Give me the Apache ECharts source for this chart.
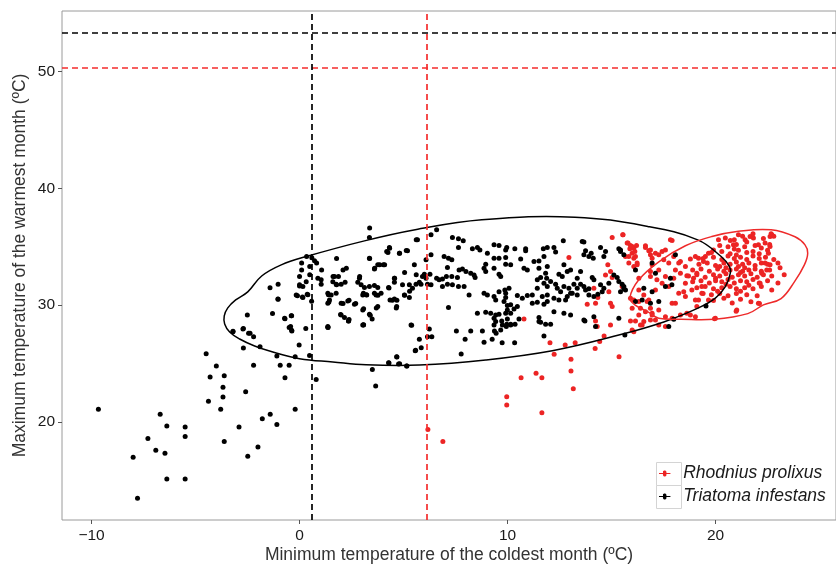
<!DOCTYPE html>
<html>
<head>
<meta charset="utf-8">
<script src="https://cdn.jsdelivr.net/npm/echarts@6/dist/echarts.min.js"></script>
<style>
  html, body { margin: 0; padding: 0; background: #fff; }
  #chart { width: 836px; height: 564px; }
</style>
</head>
<body>
<div id="chart"></div>
<script>
// axis ranges and ticks
const xRange = [-11.42, 25.79];
const yRange = [11.64, 55.15];
const xTicks = [-10, 0, 10, 20];
const yTicks = [20, 30, 40, 50];

// thermal limits [min temp of coldest month, max temp of warmest month]
const triatomaLimits = [0.6, 53.3];
const rhodniusLimits = [6.1, 50.3];

// Triatoma infestans occurrences [x, y]
const triatomaPts = [
  [-9.67,21.1],[-6.70,20.67],[-6.38,19.67],[-5.50,19.6],[-5.50,18.78],[-7.29,18.6],[-6.91,17.6],[-6.47,17.35],
  [-8.0,17.0],[-6.38,15.15],[-5.5,15.15],[-7.79,13.5],[-4.49,25.86],[-4.0,24.8],[-4.3,23.86],[-3.62,23.97],
  [-3.68,22.98],[-3.68,22.15],[-4.38,21.8],[-3.79,21.1],[-3.62,18.36],[-2.59,22.6],[-2.91,19.6],[-1.79,20.3],
  [-1.41,20.67],[-1.09,19.8],[-2.0,17.87],[-2.49,17.1],[-0.21,21.1],[-0.7,23.8],[-0.93,24.86],[-0.5,24.86],
  [-2.21,24.86],[-1.09,25.66],[-0.21,25.6],[0.48,25.7],[0.8,23.66],[-2.7,26.35],[-1.9,26.45],[-0.02,26.6],
  [-3.2,27.77],[-2.7,28.0],[-2.38,27.6],[-2.21,27.3],[-0.5,28.1],[-0.38,27.86],[0.3,28.0],[1.37,28.1],
  [-2.51,29.17],[-1.3,29.3],[-1.42,31.5],[-1.03,30.5],[-1.03,31.8],[-0.7,28.85],[-0.38,29.1],[-0.1,30.8],
  [0.14,30.7],[0,31.65],[0.4,30.9],[0.58,30.34],[1.41,30.28],[1.39,30.9],[1.78,31.76],[2.09,30.14],
  [1.97,29.2],[2.38,28.77],[2.38,30.43],[2.7,30.14],[3.08,28.34],[3.08,29.7],[3.4,29.15],[3.5,24.5],
  [3.66,23.1],[4.3,25.06],[4.68,25.57],[4.81,25.0],[5.16,24.8],[5.58,26.15],[5.39,28.29],[3.69,29.77],
  [3.77,30.86],[3.21,30.9],[4.68,30.43],[4.46,30.43],[4.65,29.77],[5.29,31.2],[5.05,30.86],[4.3,31.48],
  [0.34,34.16],[0.59,34.05],[0.72,33.8],[0.82,33.6],[0.1,33.6],[0.1,33.0],[0.49,33.3],[0.49,32.6],
  [1.06,33.0],[1.78,34.0],[3.37,36.6],[3.37,34.0],[3.61,33.17],[3.85,33.45],[4.09,33.45],[4.25,34.5],
  [4.33,34.88],[4.81,34.45],[5.13,34.68],[5.05,32.8],[5.61,35.6],[2.25,33.17],[2.09,33.0],[1.61,32.45],
  [2.89,32.45],[4.57,32.3],[5.61,32.6],
  [0.0,32.45],[0.0,31.74],[0.32,32.0],[0.16,31.6],[0.88,32.3],[1.04,32.17],[1.04,31.8],[1.68,32.45],
  [1.87,32.45],[1.6,32.0],[1.76,31.8],[2.0,31.8],[2.19,31.97],[2.8,31.97],[2.96,31.74],[-1.04,30.54],
  [-0.16,30.88],[0.16,30.65],[0.37,30.94],[1.36,31.03],[1.52,30.88],[1.76,31.03],[1.36,30.17],[1.44,30.45],
  [2.0,30.17],[2.32,30.37],[2.64,30.09],[3.04,30.88],[-0.72,28.89],[-0.4,29.11],[-0.43,28.17],[-0.37,27.8],
  [1.36,28.17],[2.0,29.17],[2.16,28.94],[2.35,28.66],[3.04,28.31],[-3.2,27.74],[-2.72,27.97],[-2.45,27.6],
  [3.36,35.79],[5.67,35.59],[6.32,36.02],[6.59,36.45],[7.35,35.79],[7.64,35.68],[7.87,35.5],[7.64,34.93],
  [4.32,34.93],[4.19,34.59],[4.8,34.45],[5.19,34.65],[3.36,34.02],[3.76,33.45],[4.03,33.45],[3.6,33.1],
  [5.52,33.45],[6.32,34.31],[6.08,33.88],[6.95,34.16],[7.16,34.02],[7.32,33.88],[7.11,33.22],[6.0,32.65],
  [5.91,32.45],[6.08,32.31],[5.76,31.97],[5.6,31.8],[5.84,31.8],[6.15,31.8],[6.32,31.74],[5.28,31.74],
  [5.43,31.46],[4.95,31.74],[4.56,32.31],[4.56,31.97],[4.28,31.51],[2.88,32.31],[3.12,31.51],[3.36,31.59],
  [3.6,31.68],[3.76,31.51],[3.07,31.03],[3.23,30.88],[3.6,31.03],[3.68,30.88],[3.92,31.03],[4.35,30.45],
  [4.56,30.54],[4.67,29.88],[3.76,29.88],[3.36,29.23],[3.49,28.83],[3.07,28.31],[3.04,29.6],[5.04,30.88],
  [5.28,30.65],[6.59,32.31],[6.71,32.17],[6.87,32.25],[7.06,32.45],[6.87,31.59],[7.11,31.8],[7.35,31.74],
  [7.64,31.59],[7.91,31.59],[7.32,32.45],[7.59,32.36],[7.67,33.02],[7.83,33.1],[8.0,32.88],[8.23,32.74],
  [8.39,32.59],[8.44,32.36],[6.27,32.65],[7.16,29.8],[7.54,27.8],[8.23,27.8],[8.79,27.8],[5.36,28.31],
  [6.24,27.97],[8.15,30.88],[8.31,34.82],[8.55,34.93],[8.67,34.73],[9.35,35.16],[9.59,35.1],[9.91,34.73],
  [9.03,34.45],[9.35,34.02],[9.59,34.02],[9.91,34.08],[9.91,33.51],[8.95,33.51],[8.87,33.17],[8.95,32.88],
  [9.35,33.17],[9.59,32.65],[9.67,32.45],[8.87,31.03],[9.03,30.88],[9.35,30.74],[9.43,30.45],[9.59,31.16],
  [9.91,31.03],[9.83,30.31],[9.99,29.97],[8.55,29.32],[8.95,29.4],[9.19,29.32],[9.43,29.17],[9.59,29.23],
  [9.35,28.89],[9.43,28.6],[9.91,29.32],[9.99,28.83],[9.75,28.31],[9.67,27.89],
  [12.68,35.5],[13.59,35.45],[13.67,35.4],[9.96,34.93],[10.35,34.82],[10.87,34.82],[10.87,34.65],[11.72,34.82],
  [11.91,34.93],[12.23,34.93],[12.31,34.54],[11.75,34.16],[11.51,33.79],[11.27,33.73],[10.63,33.96],[10.15,33.45],
  [10.79,33.17],[10.95,33.02],[11.91,33.3],[11.51,33.17],[11.83,32.74],[11.88,32.31],[12.71,33.45],[12.47,32.65],
  [12.63,32.45],[12.87,32.88],[13.03,33.02],[13.35,32.31],[13.51,32.88],[13.75,34.65],[13.67,34.31],[13.91,34.16],
  [14.02,34.45],[14.12,34.02],[14.47,34.93],[14.63,34.16],[14.71,34.59],[15.35,34.82],[15.43,34.59],[11.43,32.17],
  [11.59,32.36],[11.75,31.88],[11.91,31.59],[12.07,32.02],[12.31,31.8],[12.39,31.46],[12.55,31.16],[12.71,31.59],
  [12.95,31.46],[13.03,31.03],[13.19,31.8],[13.35,31.46],[13.51,31.8],[13.67,31.59],[13.75,31.31],[13.91,31.4],
  [13.35,30.88],[13.11,31.03],[12.87,30.74],[12.79,30.45],[12.47,30.45],[12.23,30.6],[11.91,30.88],[11.67,30.74],
  [11.43,31.46],[11.19,30.88],[10.95,30.82],[10.71,30.6],[10.47,30.82],[10.15,30.03],[9.99,29.6],[10.15,29.32],
  [10.31,29.68],[10.47,29.88],[11.19,30.17],[11.43,30.26],[11.75,30.09],[11.91,30.31],[12.23,29.45],[12.71,29.32],
  [13.03,29.17],[13.67,28.74],[14.15,29.02],[11.51,28.94],[11.59,28.54],[11.83,28.37],[12.07,28.37],[10.55,28.83],
  [10.15,28.31],[9.96,28.37],[9.91,30.65],[10.07,31.46],[9.87,31.31],[15.11,32.59],[15.27,32.36],[15.35,32.02],
  [15.51,31.8],[15.59,31.4],[15.43,31.16],[14.87,31.88],[14.63,31.46],[14.47,31.74],[14.15,32.17],[14.07,32.36],
  [14.34,30.94],[14.55,31.16],[13.91,30.88],[14.15,30.74],
  [1.36,28.12],[2.36,28.66],[4.28,25.09],[4.76,24.97],[5.15,24.8],[4.67,25.6],[5.56,26.11],[5.76,27.09],
  [5.85,26.37],[6.15,27.31],[6.36,27.31],[7.96,27.1],[8.87,26.83],[9.26,27.1],[9.37,27.8],[9.45,27.6],
  [9.74,26.8],[10.34,26.8],[7.77,25.83],[9.35,28.31],[9.72,28.66],[9.94,28.17],[10.15,28.37],[10.36,28.37],
  [11.51,28.6],[13.72,28.66],[14.23,28.17],[11.75,27.37],[15.64,27.46],
  [15.43,34.73],[15.59,34.31],[16.15,33.02],[15.59,31.59],[15.67,31.31],[16.55,31.46],[16.95,31.16],[16.47,30.45],
  [16.15,30.31],[16.87,30.17],[17.27,30.31],[17.59,31.59],[17.9,31.74],[17.83,32.31],[18.07,34.31],[17.11,32.74],
  [16.95,33.6],[19.54,29.94],[15.35,28.89],[17.75,28.17],[17.99,28.8]
];

// Rhodnius prolixus occurrences [x, y]
const rhodniusPts = [
  [15.03,35.79],[15.55,36.02],[15.75,35.31],[15.91,35.1],[15.88,34.82],[16.07,34.88],[16.2,35.1],[15.99,34.45],
  [15.83,34.16],[16.07,34.02],[16.63,34.93],[16.87,34.31],[16.95,34.02],[16.79,34.65],[16.23,33.45],[16.31,32.31],
  [16.87,32.88],[16.95,33.45],[14.95,32.88],[15.03,32.36],[14.82,33.45],[12.95,34.08],[14.15,31.46],[14.34,30.65],
  [14.87,31.16],[14.71,32.59],[15.51,31.59],[13.83,30.09],[14.23,30.17],[14.95,30.17],[15.03,29.88],[15.91,30.6],
  [16.39,29.74],[16.31,30.31],[16.71,30.31],[16.87,29.74],[16.95,29.17],[10.79,28.83],[14.23,28.66],[14.31,28.17],
  [15.91,28.66],[16.15,28.66],[16.39,28.31],[16.55,28.6],[16.87,28.74],[15.99,27.89],[14.95,28.31],
  [12.04,26.8],[12.24,25.8],[12.77,26.6],[13.25,26.8],[13.05,25.38],[13.05,24.38],[13.16,22.86],[10.65,23.8],
  [11.37,24.18],[11.65,23.8],[9.96,22.17],[9.96,21.46],[11.65,20.8],[6.17,19.38],[6.89,18.36],[14.21,26.3],
  [14.43,26.9],[14.64,27.37],[15.36,25.6],[16.07,27.74],[16.47,28.31],
  [15.54,36.02],[15.79,35.31],[15.99,35.02],[16.12,34.59],[15.67,34.16],[16.15,34.16],[15.83,33.6],[16.23,33.6],
  [16.07,33.3],[16.63,35.08],[16.87,34.73],[17.11,34.45],[17.27,34.31],[17.43,34.59],[17.59,34.73],[17.83,35.59],
  [17.91,35.53],[17.51,33.88],[17.75,33.6],[17.99,34.16],[18.23,33.6],[18.31,33.73],[18.55,33.3],[18.79,33.94],
  [19.03,34.16],[19.18,34.02],[19.42,33.73],[19.51,34.16],[19.66,34.45],[19.9,34.73],[20.14,35.59],[20.47,35.74],
  [20.71,35.53],[20.86,35.16],[21.1,36.02],[21.42,35.59],[21.66,35.87],[21.82,35.74],[22.06,35.16],[22.38,35.31],
  [22.62,35.87],[22.7,36.02],[22.62,35.02],[22.54,34.45],[22.38,33.6],[22.62,33.45],[22.46,33.02],[22.22,32.74],
  [22.14,31.88],[22.06,30.17],[21.02,29.6],[19.99,28.89],[19.66,30.45],[19.34,31.03],[19.18,30.45],[18.55,30.74],
  [18.23,31.03],[17.91,30.17],[17.75,31.59],[17.59,32.45],[17.27,33.02],[16.87,32.45],[17.18,32.17],[17.43,31.88],
  [17.11,31.31],[16.79,30.45],[16.55,30.88],[16.31,31.31],[16.07,30.45],[15.99,29.74],[16.31,29.17],[16.63,29.45],
  [16.95,29.32],[17.27,29.6],[17.59,29.02],[17.91,28.89],[18.31,29.17],[18.62,29.32],[18.79,29.17],[19.03,29.02],
  [17.11,28.74],[17.27,28.31],[17.59,28.17],[18.07,30.17],[18.55,31.88],[18.94,32.31],[19.1,32.74],[19.34,31.59],
  [18.62,32.51],[18.31,32.74],[18.07,33.02],[17.99,32.31],[18.86,31.31],[18.47,31.16],[19.1,29.88],[19.03,30.45],
  [20.99,29.49],[22.11,30.14],[19.95,28.85],[22.67,36.1],
  [21.3,35.9],[21.8,36.1],[22.3,35.7],[20.9,35.6],[22.8,35.9],[21.5,35.4],
  [20.6,35.0],[21.0,35.2],[21.4,35.0],[21.9,35.1],[22.2,34.9],[20.2,35.1],[22.6,35.2],
  [19.8,34.5],[20.3,34.6],[20.7,34.4],[21.1,34.7],[21.5,34.5],[21.8,34.6],[22.1,34.4],[22.5,34.7],[20.9,34.8],
  [19.4,34.0],[19.9,34.1],[20.3,33.9],[20.6,34.2],[20.9,34.0],[21.2,34.1],[21.5,33.9],[21.8,34.2],[22.1,34.0],
  [22.4,34.1],[22.8,33.9],[21.0,34.3],
  [19.2,33.5],[19.6,33.6],[20.0,33.4],[20.4,33.6],[20.7,33.5],[21.0,33.7],[21.3,33.5],[21.6,33.6],[21.9,33.4],
  [22.2,33.6],[22.5,33.5],[23.0,33.6],[20.5,33.2],[21.1,33.3],
  [18.9,33.0],[19.3,33.1],[19.7,32.9],[20.1,33.1],[20.4,32.9],[20.7,33.0],[21.0,33.1],[21.3,32.9],[21.6,33.0],
  [21.9,33.1],[22.2,32.9],[22.6,33.0],[23.1,33.2],[21.4,33.2],[20.2,33.3],
  [18.7,32.5],[19.1,32.6],[19.5,32.4],[19.9,32.6],[20.2,32.5],[20.5,32.7],[20.8,32.4],[21.1,32.6],[21.4,32.5],
  [21.7,32.7],[22.0,32.4],[22.3,32.6],[22.7,32.5],[23.3,32.6],[20.0,32.3],[21.2,32.8],
  [18.9,32.0],[19.3,32.1],[19.7,31.9],[20.0,32.1],[20.3,32.0],[20.6,32.2],[20.9,31.9],[21.2,32.1],[21.5,32.0],
  [21.8,32.2],[22.1,31.9],[22.5,32.1],[23.0,31.9],[20.5,31.8],[21.6,31.7],
  [19.1,31.5],[19.5,31.6],[19.9,31.4],[20.3,31.5],[20.7,31.6],[21.0,31.4],[21.4,31.5],[21.8,31.4],[22.2,31.6],
  [22.7,31.3],[20.1,31.2],[21.2,31.2],
  [19.4,31.0],[19.8,30.9],[20.2,31.0],[20.6,30.8],[21.0,31.0],[21.5,30.9],[22.0,30.8],[20.4,30.6],[21.2,30.5],
  [21.7,30.3],[20.8,30.2],[19.9,30.4]
];

// 95% ellipse outlines [x, y]
const triatomaEllipse = [
  [-3.62,29.08],[-3.60,28.40],[-3.36,27.71],[-2.88,27.11],[-2.16,26.51],[-1.44,26.08],[0.0,25.43],[1.60,25.15],
  [3.20,24.91],[5.76,24.89],[8.95,25.32],[12.15,26.11],[15.35,27.45],[17.51,28.57],[19.18,29.77],[19.99,30.6],
  [20.47,31.59],[20.71,32.74],[20.67,33.3],[20.27,34.16],[19.14,35.59],[16.74,36.73],[13.24,37.53],[8.76,37.30],
  [5.56,36.45],[3.12,35.5],[0.32,34.16],[-0.88,33.45],[-1.82,32.5],[-2.49,31.14],[-3.07,30.45],[-3.45,29.77]
];
const rhodniusEllipse = [
  [15.88,30.63],[16.31,32.17],[17.27,33.71],[18.55,35.08],[19.82,35.87],[21.10,36.32],[22.67,36.45],[23.82,35.85],
  [24.30,35.16],[24.43,34.45],[24.27,33.45],[23.79,32.0],[23.15,30.57],[22.30,30.03],[21.55,29.28],[19.95,28.80],
  [18.35,28.80],[17.27,28.89],[16.75,29.43],[16.12,30.03]
];

const RED = '#ec2424';
const BLACK = '#000000';
const FONT = '"Liberation Sans", Arial, sans-serif';
const legendIcon = 'path://M0,9L6.67,9A3,3 0 1 1 12.33,9L19,9L19,11L12.33,11A3,3 0 1 1 6.67,11L0,11ZM24,7L24,13';

function ellipseSeries(name, pts, color) {
  return {
    name: name,
    type: 'custom',
    data: pts,
    silent: true,
    z: 3,
    renderItem: function (params, api) {
      if (params.dataIndex !== 0) return null;
      return {
        type: 'polygon',
        shape: { points: pts.map(p => api.coord(p)), smooth: 0.4 },
        style: { fill: 'none', stroke: color, lineWidth: 1.5 }
      };
    }
  };
}

function limitLines(limits, color) {
  return {
    silent: true,
    symbol: ['none', 'none'],
    label: { show: false },
    lineStyle: { color: color, type: [6, 4], width: 1.7, opacity: 1 },
    data: [{ xAxis: limits[0] }, { yAxis: limits[1] }]
  };
}

const chart = echarts.init(document.getElementById('chart'));
chart.setOption({
  animation: false,
  backgroundColor: '#fff',
  textStyle: { fontFamily: FONT },
  grid: {
    left: 62, right: 0, top: 11, bottom: 44, outerBoundsMode: 'none',
    show: true, borderColor: '#9a9a9a', borderWidth: 1
  },
  xAxis: {
    type: 'value', min: xRange[0], max: xRange[1],
    name: 'Minimum temperature of the coldest month (ºC)',
    nameLocation: 'middle', nameGap: 26, nameMoveOverlap: false,
    nameTextStyle: { fontSize: 17.5, color: '#333', fontFamily: FONT },
    axisLine: { show: false, onZero: false },
    splitLine: { show: false },
    axisTick: { customValues: xTicks, length: 4, lineStyle: { color: '#555' } },
    axisLabel: {
      customValues: xTicks, fontSize: 15.5, color: '#1a1a1a', margin: 8, fontFamily: FONT,
      formatter: v => String(v).replace('-', '\u2212')
    }
  },
  yAxis: {
    type: 'value', min: yRange[0], max: yRange[1],
    name: 'Maximum temperature of the warmest month (ºC)',
    nameLocation: 'middle', nameGap: 33, nameMoveOverlap: false,
    nameTextStyle: { fontSize: 17.5, color: '#333', fontFamily: FONT },
    axisLine: { show: false, onZero: false },
    splitLine: { show: false },
    axisTick: { customValues: yTicks, length: 4, lineStyle: { color: '#555' } },
    axisLabel: { customValues: yTicks, fontSize: 15.5, color: '#1a1a1a', margin: 7, fontFamily: FONT }
  },
  legend: {
    orient: 'vertical', left: 659, top: 462, padding: 0, itemGap: 0,
    itemWidth: 24, itemHeight: 6,
    textStyle: { fontSize: 17.5, fontStyle: 'italic', color: '#1a1a1a', lineHeight: 23, fontFamily: FONT },
    data: [
      { name: 'Rhodnius prolixus', icon: legendIcon },
      { name: 'Triatoma infestans', icon: legendIcon }
    ]
  },
  graphic: [
    { type: 'rect', z: 1, shape: { x: 656.5, y: 462.5, width: 25, height: 23 }, style: { fill: '#fff', stroke: '#d4d4d4', lineWidth: 1 } },
    { type: 'rect', z: 1, shape: { x: 656.5, y: 485.5, width: 25, height: 23 }, style: { fill: '#fff', stroke: '#d4d4d4', lineWidth: 1 } }
  ],
  series: [
    {
      name: 'Rhodnius prolixus', type: 'scatter', data: rhodniusPts,
      symbolSize: 5, itemStyle: { color: RED, opacity: 1 }, z: 2,
      markLine: limitLines(rhodniusLimits, '#f52d2d')
    },
    {
      name: 'Triatoma infestans', type: 'scatter', data: triatomaPts,
      symbolSize: 5, itemStyle: { color: BLACK, opacity: 1 }, z: 2,
      markLine: limitLines(triatomaLimits, '#000')
    },
    ellipseSeries('Triatoma ellipse', triatomaEllipse, '#000'),
    ellipseSeries('Rhodnius ellipse', rhodniusEllipse, '#ee2a2a')
  ]
});
</script>
</body>
</html>
